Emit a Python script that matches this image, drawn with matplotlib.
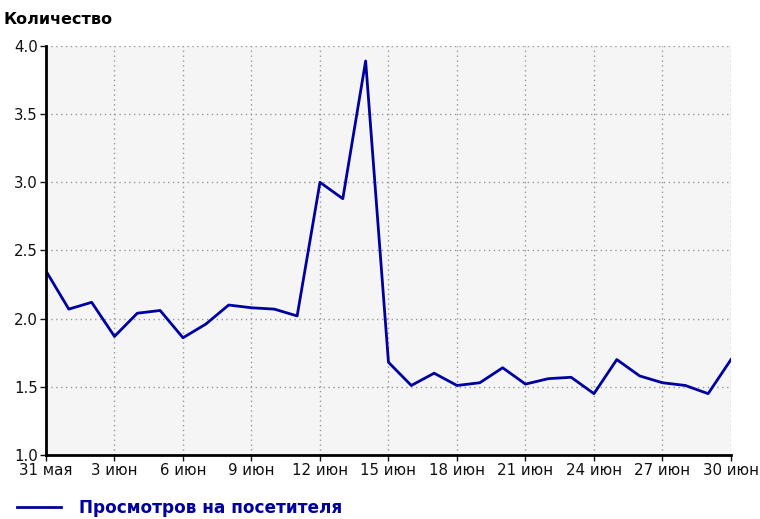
import matplotlib
matplotlib.use("Agg")
import matplotlib.pyplot as plt
import numpy as np

# days from 31 May to 30 Jun
day_labels = ["31 мая"] + [f"{d} июн" for d in range(1, 31)]
views_per_visitor = [2.35, 2.07, 2.12, 1.87, 2.04, 2.06, 1.86, 1.96, 2.10, 2.08,
                     2.07, 2.02, 3.00, 2.88, 3.89, 1.68, 1.51, 1.60, 1.51, 1.53,
                     1.64, 1.52, 1.56, 1.57, 1.45, 1.70, 1.58, 1.53, 1.51, 1.45,
                     1.70]
tick_idx = list(range(0, 31, 3))
y_ticks = [1.0, 1.5, 2.0, 2.5, 3.0, 3.5, 4.0]

plt.rcParams['font.family'] = ['DejaVu Sans']

fig = plt.figure(figsize=(7.6, 5.19), dpi=100)
ax = fig.add_axes([0.0605, 0.1233, 0.9013, 0.7881])
ax.set_facecolor('#f5f5f5')

x = np.arange(len(views_per_visitor))
line, = ax.plot(x, views_per_visitor, color='#0000a0', linewidth=2,
                label="Просмотров на посетителя")

ax.set_xlim(0, 30)
ax.set_ylim(1.0, 4.0)
ax.set_xticks(tick_idx)
ax.set_xticklabels([day_labels[i] for i in tick_idx])
ax.set_yticks(y_ticks)
ax.set_yticklabels([f"{v:.1f}" for v in y_ticks])

ax.grid(True, color='#999999', linestyle=(0, (1, 2.5)), linewidth=1)
ax.set_axisbelow(True)
for s in ['top', 'right']:
    ax.spines[s].set_visible(False)
for s in ['left', 'bottom']:
    ax.spines[s].set_linewidth(2)
    ax.spines[s].set_color('black')
ax.tick_params(axis='both', length=4, width=1, direction='out',
               labelsize=10.8, colors='#111111', pad=2)

fig.text(0.004, 0.948, "Количество", fontsize=11.5, fontweight='bold',
         ha='left', va='bottom')

leg = fig.legend(handles=[line], loc='center left', bbox_to_anchor=(0.022, 0.021),
                 frameon=False, fontsize=12.2, handlelength=2.6, handletextpad=1.1,
                 borderpad=0, borderaxespad=0)
for t in leg.get_texts():
    t.set_color('#0000a0')
    t.set_fontweight('bold')

fig.savefig("out.png", dpi=100, facecolor='white')
